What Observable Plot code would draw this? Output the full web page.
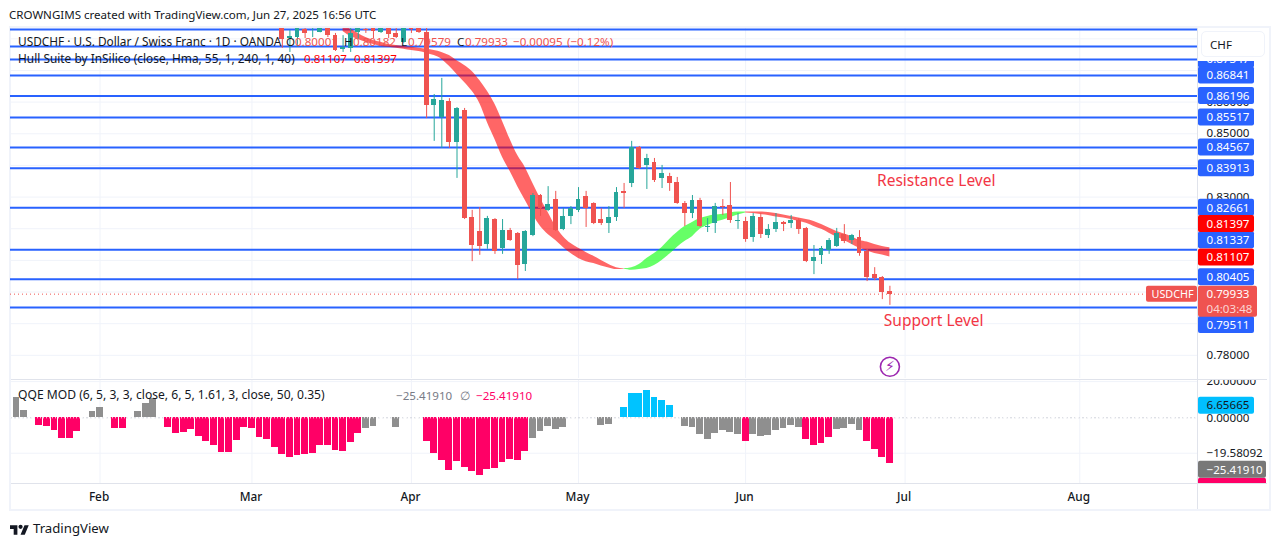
<!DOCTYPE html>
<html><head><meta charset="utf-8">
<script src="https://cdn.jsdelivr.net/npm/d3@7"></script>
<script src="https://cdn.jsdelivr.net/npm/@observablehq/plot@0.6"></script>
<style>
html,body{margin:0;padding:0;background:#fff;width:1281px;height:546px;overflow:hidden}
body{position:relative;font-family:"Noto Sans",sans-serif;color:#131722}
.abs{position:absolute;white-space:pre;line-height:1}
.pane{position:absolute;left:0}
.red{color:#ef5350}.pure{color:#ff0000}.pink{color:#ff0066}.gr{color:#787b86}
</style></head><body><div id="root"></div>
<script>
// ---- trading-day index of the x axis (0 = first visible bar)
const monthIdx=[11,31,52,74,96,117,140];
const monthLabels=["Feb","Mar","Apr","May","Jun","Jul","Aug"];
const xDomain=[-0.79,155.5];

// ---- candles, from bar 35
const candleStart=35;
const open=[.8845,.8801,.8804,.8830,.8819,.8820,.8839,.8810,.8767,.8770,.8820,.8830,.8833,.8820,.8836,.8817,.8789,.8833,.8833,.8820,
.8589,.8551,.8602,.8473,.8573,.8236,.8191,.8150,.8229,.8138,.8194,.8185,.8087,.8179,.8305,.8258,.8292,.8198,.8239,.8258,
.8302,.8280,.8229,.8217,.8236,.8318,.8343,.8457,.8400,.8409,.8359,.8365,.8346,.8280,.8248,.8289,.8204,.8217,.8270,.8274,
.8223,.8223,.8172,.8236,.8179,.8198,.8220,.8217,.8226,.8201,.8096,.8116,.8131,.8144,.8182,.8163,.8172,.8128,.8055,.8046,.80001];
const high=[.8851,.8826,.8845,.8836,.8833,.8845,.8845,.8817,.8810,.8833,.8842,.8836,.8839,.8842,.8842,.8833,.8842,.8839,.8839,.8833,
.8624,.8675,.8611,.8583,.8580,.8258,.8267,.8239,.8232,.8229,.8201,.8188,.8194,.8311,.8308,.8333,.8318,.8264,.8270,.8330,
.8318,.8282,.8264,.8270,.8330,.8343,.8476,.8460,.8435,.8422,.8400,.8375,.8362,.8286,.8305,.8296,.8232,.8280,.8292,.8346,
.8248,.8236,.8248,.8248,.8213,.8248,.8223,.8242,.8232,.8204,.8147,.8144,.8169,.8201,.8213,.8182,.8194,.8135,.8077,.8049,.80182];
const low=[.8770,.8757,.8773,.8801,.8804,.8819,.8804,.8760,.8757,.8757,.8798,.8817,.8801,.8817,.8801,.8801,.8786,.8817,.8817,.8548,
.8476,.8454,.8454,.8359,.8229,.8096,.8116,.8135,.8119,.8119,.8160,.8039,.8065,.8175,.8239,.8254,.8191,.8194,.8213,.8251,
.8204,.8213,.8210,.8185,.8223,.8264,.8330,.8387,.8324,.8346,.8327,.8318,.8277,.8207,.8232,.8204,.8188,.8185,.8242,.8217,
.8198,.8157,.8157,.8169,.8169,.8188,.8191,.8201,.8182,.8093,.8055,.8087,.8119,.8141,.8153,.8150,.8113,.8033,.8036,.7976,.79579];
const close=[.8798,.8807,.8839,.8817,.8820,.8839,.8810,.8763,.8773,.8817,.8833,.8826,.8823,.8836,.8813,.8804,.8836,.8830,.8820,.8589,
.8608,.8605,.8473,.8580,.8232,.8147,.8144,.8232,.8128,.8194,.8163,.8084,.8191,.8305,.8264,.8277,.8194,.8239,.8264,.8292,
.8264,.8217,.8217,.8236,.8315,.8311,.8457,.8390,.8422,.8352,.8375,.8343,.8280,.8248,.8289,.8207,.8207,.8270,.8267,.8226,
.8226,.8166,.8239,.8182,.8198,.8220,.8213,.8226,.8198,.8096,.8109,.8138,.8163,.8185,.8160,.8179,.8122,.8046,.8043,.7998,.79933];

// ---- Hull Suite band, from bar 43
const hullStart=43, hullBreaks=[80,96];
const hullUpper=[.8842,.8830,.8817,.8804,.8795,.8789,.8782,.8779,.8776,.8773,.8770,.8767,.8763,.8757,.8747,.8731,.8716,.8697,.8668,.8634,
.8593,.8539,.8482,.8431,.8393,.8343,.8295,.8251,.8207,.8175,.8153,.8138,.8125,.8113,.8100,.8087,.8077,.8074,
.8077,.8087,.8106,.8122,.8141,.8166,.8188,.8207,.8220,.8232,.8239,.8243,.8246,.8250,.8253,
.8253,.8253,.8253,.8251,.8248,.8243,.8239,.8234,.8229,.8223,.8213,.8202,.8191,.8183,.8174,.8163,.8158,.8150,.8144,.81397];
const hullLower=[.8823,.8807,.8798,.8789,.8782,.8776,.8773,.8770,.8767,.8763,.8760,.8754,.8747,.8735,.8713,.8687,.8662,.8634,.8596,.8536,
.8482,.8425,.8381,.8333,.8289,.8245,.8207,.8182,.8163,.8141,.8122,.8106,.8096,.8090,.8082,.8076,.8071,.8073,
.8069,.8071,.8074,.8084,.8100,.8119,.8141,.8160,.8175,.8198,.8210,.8220,.8227,.8235,.8243,
.8250,.8248,.8245,.8242,.8237,.8234,.8229,.8223,.8217,.8207,.8198,.8186,.8174,.8163,.8150,.8138,.8130,.8122,.8117,.81107];

// ---- levels and labels
const levels=[.88295,.87757,.87347,.86841,.86196,.85517,.84567,.83913,.82661,.81337,.80405,.79511];
const priceGrid=[.78,.79,.80,.81,.82,.83,.84,.85,.86,.87,.88];
const priceLabels=[.78,.83,.85,.86];
const lastPrice=.79933, hullLast=[.81397,.81107];

// ---- QQE MOD histogram, from bar 0; state per bar
const qqeValues=[11.4,4.05,null,-4.2,-4.8,-7,-11.4,-11.4,-7.5,null,3.5,5.7,null,-5.9,-5.9,null,3.5,7.9,10.7,null,
-5.3,-8.7,-8.1,-6.4,-10.3,-13.1,-15.3,-19.1,-19.1,-12.5,-5.3,-5.9,-10.9,-12,-16.4,-20.2,-21.9,-20.8,-20.2,-19.7,
-15.3,-15.3,-18,-18.6,-13.6,-8.7,-5.9,-4.8,null,null,-5.3,null,null,null,-13.1,-19.7,-23.6,-29.1,-24.1,-27.4,
-29.7,-31.9,-28.6,-28,-24.7,-23,-23.6,-18.6,-11.4,-7.5,-4.8,-6.4,-5.3,null,null,null,null,-4.2,-3.7,null,
5.7,13.4,13.4,15.1,11.2,9.6,6.8,null,-4.8,-5.3,-9.2,-12,-8.7,-7,-8.1,-9.2,-13.1,-9.2,-10.3,-9.8,
-7,-5.9,-4.2,-5.3,-12,-15.3,-14.2,-10.9,-6.4,-5.9,-3.7,-7,-13.1,-17.5,-21.9,-25.4191];
const qqeStates=["n","n","","b","b","b","b","b","b","","n","n","","b","b","","n","n","n","",
"b","b","b","b","b","b","b","b","b","b","b","b","b","b","b","b","b","b","b","b",
"b","b","b","b","b","b","n","n","","","n","","","","b","b","b","b","b","b",
"b","b","b","b","b","b","b","b","n","n","n","n","n","","","","","n","n","",
"u","u","u","u","u","u","u","","n","n","n","n","n","n","n","n","b","n","n","n",
"n","n","n","n","b","b","b","b","n","n","n","n","b","b","b","b"];
const qqeTicks=[20,0,-19.58092];
const qqeTagUp=6.65665, qqeLast=-25.4191;

// ---- styles
const UP="#26a69a",DOWN="#ef5350",BLUE="#2962ff",GRID="#f0f3fa",FONT='"Noto Sans",sans-serif';
const qqeColor={n:"#8f8f8f",b:"#ff0066",u:"#00c3ff"};
const W=1281, axisEdge=xDomain[1], TAGFONT=11.6;
const svgStyle={background:"transparent",fontFamily:FONT,fontSize:"11.6px",color:"#131722"};
const fmt5=d=>d3.format(".5f")(d).replace("-","−");

function tag(v,label,fill,ink,w,dy=0,h=8.5,extra={}){
  return [
    Plot.rect([v],{x1:()=>axisEdge,x2:()=>axisEdge,y1:d=>d,y2:d=>d,fill,rx:2,dy,dx:1,
      insetLeft:0,insetRight:-w,insetTop:-h,insetBottom:-(extra.below??h)}),
    Plot.text([v],{x:()=>axisEdge,y:d=>d,text:()=>label,dx:9,dy,textAnchor:"start",fill:ink,fontSize:TAGFONT})
  ];
}

const candles=open.map((o,k)=>({i:candleStart+k,o,h:high[k],l:low[k],c:close[k]}));
const hull=hullUpper.map((a,k)=>({i:hullStart+k,a,b:hullLower[k]}));
const seg=(lo,hi)=>hull.filter(d=>d.i>=lo&&d.i<=hi);
const qqe=qqeValues.map((v,i)=>({i,v,s:qqeStates[i]})).filter(d=>d.v!=null);
const cCol=d=>d.c>=d.o?UP:DOWN;

const band=(rows,fill)=>Plot.areaY(rows,{x:"i",y1:"a",y2:"b",fill,fillOpacity:.6,curve:"monotone-x",clip:true});

const pricePlot=Plot.plot({
  width:W,height:379,marginTop:28,marginBottom:1,marginLeft:10,marginRight:84,style:svgStyle,
  x:{type:"linear",domain:xDomain,axis:null},
  y:{type:"linear",domain:[.77268,.88326],axis:null},
  marks:[
    Plot.ruleX(monthIdx,{stroke:GRID}),
    Plot.ruleY(priceGrid,{stroke:GRID}),
    Plot.axisY(priceLabels,{anchor:"right",tickSize:0,tickPadding:9,label:null,tickFormat:fmt5,fontSize:TAGFONT,fill:"#131722"}),
    Plot.ruleY(levels,{stroke:BLUE,strokeWidth:2}),
    band(seg(0,hullBreaks[0]),"#ff0000"),
    band(seg(hullBreaks[0],hullBreaks[1]),"#00ff00"),
    band(seg(hullBreaks[1],999),"#ff0000"),
    Plot.ruleX(candles,{x:"i",y1:"l",y2:"h",stroke:cCol,clip:true}),
    Plot.rect(candles,{x1:d=>d.i-.32,x2:d=>d.i+.32,y1:d=>Math.max(d.o,d.c),y2:d=>Math.min(d.o,d.c),fill:cCol,clip:true,shapeRendering:"crispEdges"}),
    Plot.ruleY([lastPrice],{stroke:DOWN,strokeDasharray:"1,3"}),
    Plot.text(["Resistance Level"],{x:()=>113.3,y:()=>.8350,textAnchor:"start",fill:"#f23645",fontSize:15.5}),
    Plot.text(["Support Level"],{x:()=>114.2,y:()=>.79069,textAnchor:"start",fill:"#f23645",fontSize:15.5}),
    Plot.dot([0],{x:()=>115,y:()=>.7764,r:9.5,stroke:"#9c27b0",strokeWidth:1.6,fill:"white"}),
    Plot.text(["⚡"],{x:()=>115,y:()=>.7764,fill:"#9c27b0",fontSize:14,fontFamily:"DejaVu Sans"}),
    ...tag(.87347,"0.87347",BLUE,"white",56),
    ...tag(.86841,"0.86841",BLUE,"white",56),
    ...tag(.86196,"0.86196",BLUE,"white",56),
    ...tag(.85517,"0.85517",BLUE,"white",56),
    ...tag(.84567,"0.84567",BLUE,"white",56),
    ...tag(.83913,"0.83913",BLUE,"white",56),
    ...tag(.82661,"0.82661",BLUE,"white",56),
    ...tag(.81337,"0.81337",BLUE,"white",56,-9.5),
    ...tag(.80405,"0.80405",BLUE,"white",56,-2),
    ...tag(.79511,"0.79511",BLUE,"white",56,17.5),
    ...tag(hullLast[0],"0.81397","#ff0000","white",56,-23.8),
    ...tag(hullLast[1],"0.81107","#ff0000","white",56,0.5),
    ...tag(lastPrice,"0.79933",DOWN,"white",59,0,8,{below:23}),
    Plot.text(["04:03:48"],{x:()=>axisEdge,y:()=>lastPrice,dx:9,dy:15,textAnchor:"start",fill:"#fbd5d4",fontSize:TAGFONT}),
    Plot.rect([lastPrice],{x1:()=>axisEdge,x2:()=>axisEdge,y1:d=>d,y2:d=>d,fill:DOWN,rx:2,insetLeft:-51,insetRight:0,insetTop:-8,insetBottom:-8}),
    Plot.text(["USDCHF"],{x:()=>axisEdge,y:()=>lastPrice,dx:-46,textAnchor:"start",fill:"white",fontSize:10.8})
  ]
});

const qqePlot=Plot.plot({
  width:W,height:103,marginTop:0,marginBottom:0,marginLeft:10,marginRight:84,style:{...svgStyle,overflow:"hidden"},
  x:{type:"linear",domain:xDomain,axis:null},
  y:{type:"linear",domain:[-36.3,20.6],axis:null},
  marks:[
    Plot.ruleX(monthIdx,{stroke:GRID}),
    Plot.ruleY([20,-19.58092],{stroke:GRID}),
    Plot.ruleY([0],{stroke:"#d1d4dc",strokeDasharray:"2,2"}),
    Plot.rect(qqe,{x1:d=>d.i-.45,x2:d=>d.i+.45,y1:()=>0,y2:"v",fill:d=>qqeColor[d.s],shapeRendering:"crispEdges"}),
    Plot.ruleY([0],{stroke:"white",strokeDasharray:"1,2"}),
    Plot.axisY(qqeTicks,{anchor:"right",tickSize:0,tickPadding:9,label:null,tickFormat:fmt5,fontSize:TAGFONT,fill:"#131722"}),
    ...tag(qqeTagUp,"6.65665","#00bfff","#131722",56),
    ...tag(qqeLast,"−25.41910","#ff0066","white",68,23),
    ...tag(qqeLast,"−25.41910","#787878","white",68,6)
  ]
});

const timePlot=Plot.plot({
  width:W,height:28,marginTop:0,marginBottom:0,marginLeft:10,marginRight:84,style:svgStyle,
  x:{type:"linear",domain:xDomain,axis:null},
  y:{axis:null},
  marks:[
    Plot.text(monthIdx,{x:d=>d,frameAnchor:"middle",dx:-1,text:(d,k)=>monthLabels[k],fontSize:11.8,fontWeight:500,fill:"#131722"})
  ]
});

const root=document.getElementById("root");
function box(css){const e=document.createElement("div");e.style.cssText="position:absolute;"+css;root.appendChild(e);return e}
function txt(x,y,html,size=12,cls=""){const e=document.createElement("div");e.className="abs "+cls;
  e.style.left=x+"px";e.style.top=(y-size/2)+"px";e.style.fontSize=size+"px";e.innerHTML=html;root.appendChild(e);return e}
function place(svg,top){const p=document.createElement("div");p.className="pane";p.style.top=top+"px";p.appendChild(svg);root.appendChild(p)}

box("left:9px;top:26px;width:1258px;height:481px;border:2px solid #f0f3fa");
place(pricePlot,0);
place(qqePlot,380);
place(timePlot,483);
box("left:1198px;top:28px;width:69px;height:32.5px;background:#fff");
box("left:1201px;top:31px;width:62px;height:24px;background:#fff;border:1px solid #f0f3fa;border-radius:5px");
box("left:1197px;top:28px;width:1px;height:481px;background:#e0e3eb");
box("left:11px;top:379px;width:1256px;height:1px;background:#e0e3eb");
box("left:11px;top:483px;width:1256px;height:1px;background:#e0e3eb");

txt(1210,44.5,"CHF",11.6);
txt(9,15,"CROWNGIMS created with TradingView.com, Jun 27, 2025 16:56 UTC",11.55);
txt(18,42,"USDCHF · U.S. Dollar / Swiss Franc · 1D · OANDA",11.85);
txt(286,42,"O",11.6);txt(295,42,"0.80001",11.6,"red");
txt(344,42,"H",11.6);txt(353,42,"0.80182",11.6,"red");
txt(401,42,"L",11.6);txt(408,42,"0.79579",11.6,"red");
txt(457,42,"C",11.6);txt(465,42,"0.79933",11.6,"red");
txt(513,42,"−0.00095",11.6,"red");txt(567,42,"(−0.12%)",11.6,"red");
txt(18,59,"Hull Suite by InSilico (close, Hma, 55, 1, 240, 1, 40)",11.9);
txt(304,59,"0.81107",11.6,"pure");txt(354,59,"0.81397",11.6,"pure");
txt(18,395.5,"QQE MOD (6, 5, 3, 3, close, 6, 5, 1.61, 3, close, 50, 0.35)",12.1);
txt(396,395.5,"−25.41910",11.6,"gr");txt(460,395.5,"∅",12,"gr");txt(476,395.5,"−25.41910",11.6,"pink");

const logo=document.createElement("div");logo.style.cssText="position:absolute;left:10px;top:521px;width:19px;height:15px";
logo.innerHTML='<svg viewBox="0 0 36 28" width="19" height="15"><path fill="#131722" d="M14 22H7V11H0V4h14v18zM28 22h-8l7.5-18h8L28 22z"/><circle fill="#131722" cx="20" cy="7" r="4"/></svg>';
root.appendChild(logo);
txt(33,529,"TradingView",13.2);
</script></body></html>
